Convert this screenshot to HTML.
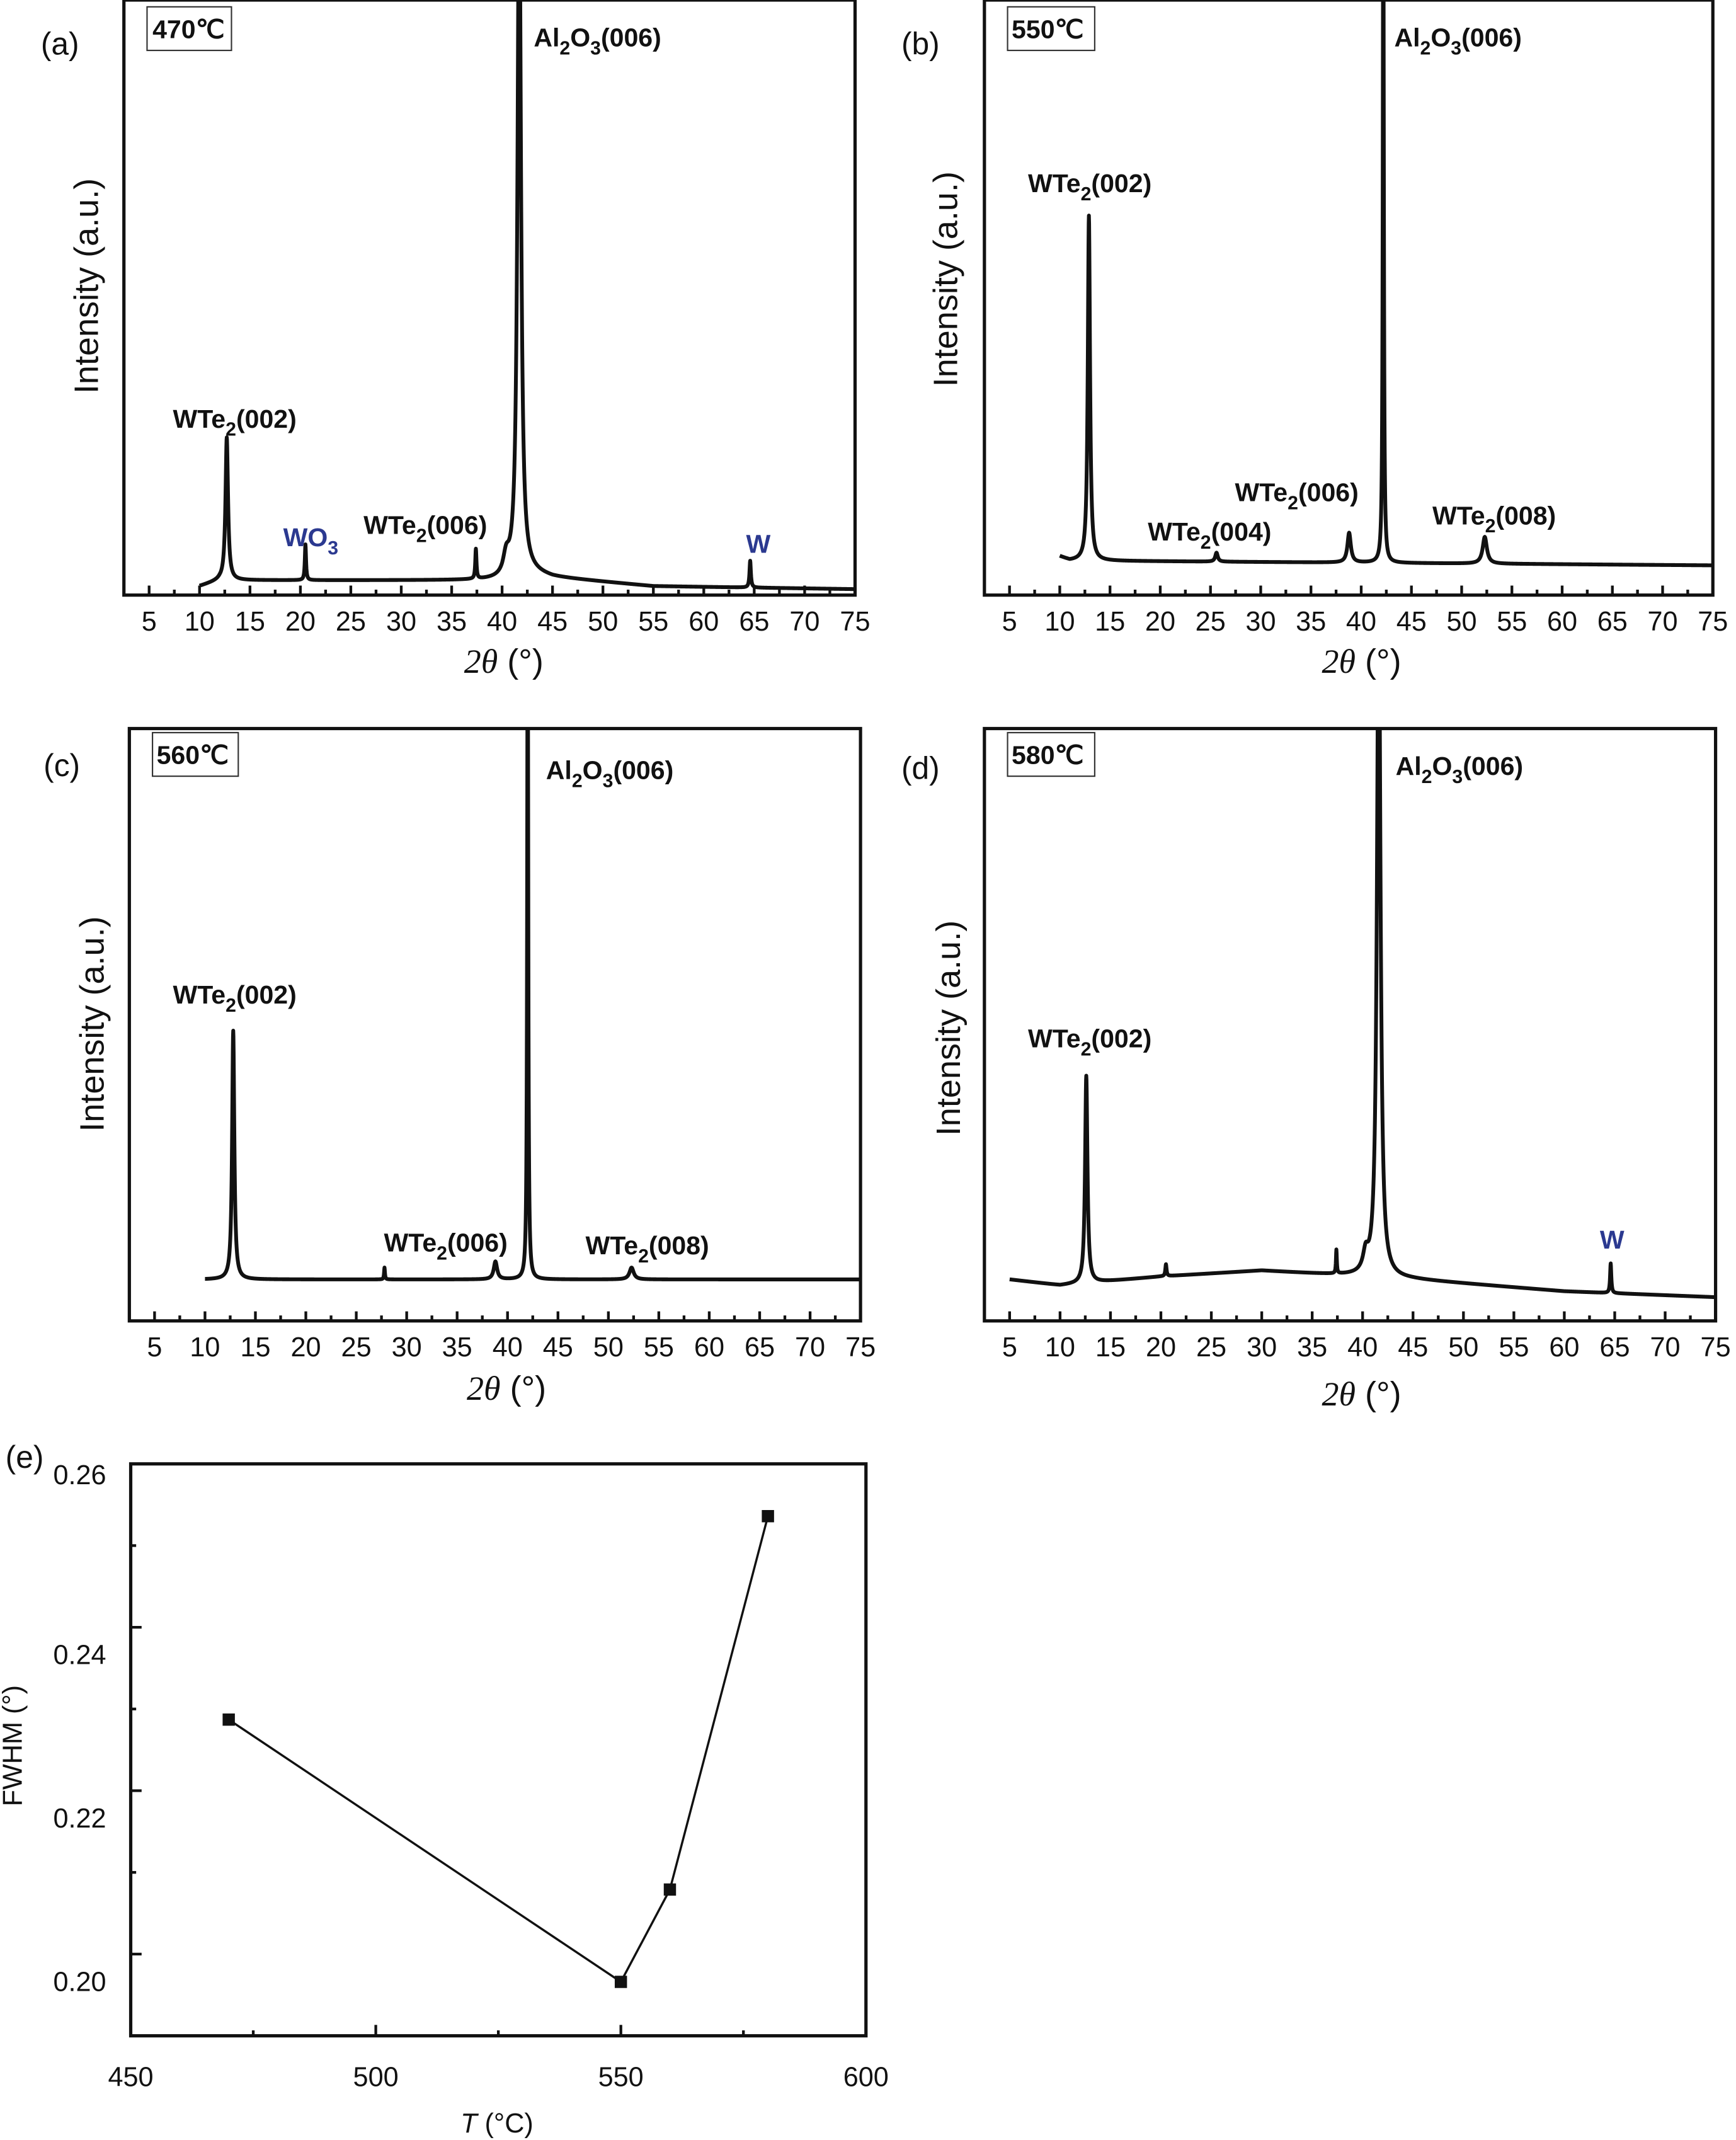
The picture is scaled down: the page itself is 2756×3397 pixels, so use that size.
<!DOCTYPE html>
<html><head><meta charset="utf-8"><title>XRD and FWHM figure</title>
<style>
html,body{margin:0;padding:0;background:#fff;}
svg{display:block;font-family:"Liberation Sans",sans-serif;}
.lbl{font-size:19px;font-weight:bold;fill:#111;}
.blue{fill:#2b3990;}
.tick{font-size:20px;fill:#111;}
.ttl{font-size:25px;fill:#111;}
.pl{font-size:23px;fill:#111;}
</style></head>
<body>
<svg id="fig" width="2756" height="3397" viewBox="0 0 1275 1571.5" xmlns="http://www.w3.org/2000/svg">
<rect x="0" y="0" width="1275" height="1571.5" fill="#fff"/>
<defs>
<clipPath id="clipA"><rect x="91" y="0" width="537" height="437"/></clipPath>
<clipPath id="clipB"><rect x="723" y="0" width="535" height="437"/></clipPath>
<clipPath id="clipC"><rect x="95" y="535" width="537" height="435"/></clipPath>
<clipPath id="clipD"><rect x="723" y="535" width="537" height="435"/></clipPath>
</defs>

<g id="panel-a"></g>
<g id="panel-b"></g>
<g id="panel-c"></g>
<g id="panel-d"></g>
<g id="panel-e"></g>

<text class="pl" x="30" y="40">(a)</text>
<text class="pl" x="662" y="40">(b)</text>
<text class="pl" x="32" y="570">(c)</text>
<text class="pl" x="662" y="572">(d)</text>
<text class="pl" x="4" y="1078">(e)</text>

<g><rect x="108" y="5" width="62" height="32" fill="none" stroke="#333" stroke-width="1"/><text class="lbl" x="112" y="28">470℃</text></g>
<g><rect x="740" y="5" width="64" height="32" fill="none" stroke="#333" stroke-width="1"/><text class="lbl" x="743" y="28">550℃</text></g>
<g><rect x="112" y="538" width="63" height="32" fill="none" stroke="#333" stroke-width="1"/><text class="lbl" x="115" y="561">560℃</text></g>
<g><rect x="740" y="538" width="64" height="32" fill="none" stroke="#333" stroke-width="1"/><text class="lbl" x="743" y="561">580℃</text></g>

<text class="lbl" x="392" y="34">Al<tspan dy="6" font-size="14">2</tspan><tspan dy="-6">O</tspan><tspan dy="6" font-size="14">3</tspan><tspan dy="-6">(006)</tspan></text>
<text class="lbl" x="127" y="314">WTe<tspan dy="6" font-size="14">2</tspan><tspan dy="-6">(002)</tspan></text>
<text class="lbl blue" x="208" y="401">WO<tspan dy="6" font-size="14">3</tspan></text>
<text class="lbl" x="267" y="392">WTe<tspan dy="6" font-size="14">2</tspan><tspan dy="-6">(006)</tspan></text>
<text class="lbl blue" x="548" y="406">W</text>
<text class="lbl" x="1024" y="34">Al<tspan dy="6" font-size="14">2</tspan><tspan dy="-6">O</tspan><tspan dy="6" font-size="14">3</tspan><tspan dy="-6">(006)</tspan></text>
<text class="lbl" x="755" y="141">WTe<tspan dy="6" font-size="14">2</tspan><tspan dy="-6">(002)</tspan></text>
<text class="lbl" x="843" y="397">WTe<tspan dy="6" font-size="14">2</tspan><tspan dy="-6">(004)</tspan></text>
<text class="lbl" x="907" y="368">WTe<tspan dy="6" font-size="14">2</tspan><tspan dy="-6">(006)</tspan></text>
<text class="lbl" x="1052" y="385">WTe<tspan dy="6" font-size="14">2</tspan><tspan dy="-6">(008)</tspan></text>
<text class="lbl" x="401" y="572">Al<tspan dy="6" font-size="14">2</tspan><tspan dy="-6">O</tspan><tspan dy="6" font-size="14">3</tspan><tspan dy="-6">(006)</tspan></text>
<text class="lbl" x="127" y="737">WTe<tspan dy="6" font-size="14">2</tspan><tspan dy="-6">(002)</tspan></text>
<text class="lbl" x="282" y="919">WTe<tspan dy="6" font-size="14">2</tspan><tspan dy="-6">(006)</tspan></text>
<text class="lbl" x="430" y="921">WTe<tspan dy="6" font-size="14">2</tspan><tspan dy="-6">(008)</tspan></text>
<text class="lbl" x="1025" y="569">Al<tspan dy="6" font-size="14">2</tspan><tspan dy="-6">O</tspan><tspan dy="6" font-size="14">3</tspan><tspan dy="-6">(006)</tspan></text>
<text class="lbl" x="755" y="769">WTe<tspan dy="6" font-size="14">2</tspan><tspan dy="-6">(002)</tspan></text>
<text class="lbl blue" x="1175" y="917">W</text>
</svg>
<script>
const peaksA_pos=[12.7,20.5,37.4,40.4,41.7,64.6];
const peaksA_h=[24,6,5,3,120,4.5];
const peaksA_w=[0.15,0.07,0.07,0.35,0.2,0.08];
const baseA_x=[10,12,40,42,45,55,75];
const baseA_y=[1.5,2.5,2.5,4,3,1.5,1];

const peaksB_pos=[12.9,25.6,38.8,42.2,52.3];
const peaksB_h=[58,1.5,5,120,4.5];
const peaksB_w=[0.13,0.15,0.2,0.06,0.25];
const baseB_x=[10,11,75];
const baseB_y=[6.5,5.8,5];

const peaksC_pos=[12.8,27.8,38.8,42.0,52.3];
const peaksC_h=[42,2,3,120,2];
const peaksC_w=[0.13,0.05,0.2,0.06,0.25];
const baseC_x=[10,75];
const baseC_y=[7,7];

const peaksD_pos=[12.6,20.5,37.4,40.3,41.6,64.6];
const peaksD_h=[35,2,4,3,120,5];
const peaksD_w=[0.14,0.07,0.05,0.3,0.2,0.07];
const baseD_x=[5,10,20,30,40,45,60,75];
const baseD_y=[7,6,7.5,8.5,7.5,7,5,4];

const ticksX=[5,10,15,20,25,30,35,40,45,50,55,60,65,70,75];

const tempsE=[470,550,560,580];
const fwhmE=[0.2287,0.1966,0.2079,0.2536];
const ticksEX=[450,500,550,600];
const ticksEY=[0.20,0.22,0.24,0.26];
const tickLabelsEY=["0.20","0.22","0.24","0.26"];

const NS="http://www.w3.org/2000/svg";
function mk(tag,attrs,parent){const e=document.createElementNS(NS,tag);for(const k in attrs)e.setAttribute(k,attrs[k]);parent.appendChild(e);return e;}
function interp(xs,ys,x){if(x<=xs[0])return ys[0];for(let i=1;i<xs.length;i++){if(x<=xs[i]){const t=(x-xs[i-1])/(xs[i]-xs[i-1]);return ys[i-1]+t*(ys[i]-ys[i-1]);}}return ys[ys.length-1];}

function drawXRD(gid,clip,fr,pos,h,w,bx,by,ttlCx,ttlY,yTitle){
  const g=document.getElementById(gid);
  const xmin=2.5,xmax=75;
  const sx=v=>fr.x0+(v-xmin)/(xmax-xmin)*(fr.x1-fr.x0);
  const sy=v=>fr.y1-v/100*(fr.y1-fr.y0);
  let d="";
  for(let x=bx[0];x<=75.0001;x+=0.02){
    let y=interp(bx,by,x);
    for(let i=0;i<pos.length;i++){const dx=x-pos[i];y+=h[i]*w[i]*w[i]/(dx*dx+w[i]*w[i]);}
    d+=(d?"L":"M")+sx(x).toFixed(2)+","+sy(y).toFixed(2);
  }
  const p=mk("path",{d:d,fill:"none",stroke:"#111","stroke-width":"2.8","stroke-linejoin":"round","clip-path":"url(#"+clip+")"},g);
  
  
  const f=mk("rect",{x:fr.x0,y:fr.y0,width:fr.x1-fr.x0,height:fr.y1-fr.y0,fill:"none",stroke:"#111","stroke-width":"2.4"},g);
  
  
  for(let v=5;v<=75;v+=2.5){
    const major=(v%5===0);
    mk("line",{x1:sx(v),x2:sx(v),y1:fr.y1,y2:fr.y1-(major?7:4),stroke:"#111","stroke-width":"2"},g);
  }
  ticksX.forEach(v=>{
    const t=mk("text",{x:sx(v),y:fr.y1+26,"text-anchor":"middle",class:"tick"},g);
    t.textContent=String(v);
    
    
  });
  const tt=mk("text",{x:ttlCx,y:ttlY,"text-anchor":"middle",class:"ttl"},g);
  tt.innerHTML='<tspan font-style="italic" font-family="Liberation Serif, serif">2θ</tspan> (°)';
  
  
  const yt=mk("text",{x:0,y:0,"text-anchor":"middle",class:"ttl",transform:"translate("+yTitle[0]+","+yTitle[1]+") rotate(-90)"},g);
  yt.textContent="Intensity (a.u.)";
  
  
}

drawXRD("panel-a","clipA",{x0:91,x1:628,y0:0,y1:437},peaksA_pos,peaksA_h,peaksA_w,baseA_x,baseA_y,370,494,[72,210]);
drawXRD("panel-b","clipB",{x0:723,x1:1258,y0:0,y1:437},peaksB_pos,peaksB_h,peaksB_w,baseB_x,baseB_y,1000,494,[703,205]);
drawXRD("panel-c","clipC",{x0:95,x1:632,y0:535,y1:970},peaksC_pos,peaksC_h,peaksC_w,baseC_x,baseC_y,372,1028,[76,752]);
drawXRD("panel-d","clipD",{x0:723,x1:1260,y0:535,y1:970},peaksD_pos,peaksD_h,peaksD_w,baseD_x,baseD_y,1000,1032,[705,755]);

(function(){
  const g=document.getElementById("panel-e");
  const fr={x0:96,x1:636,y0:1075,y1:1495};
  const sx=v=>fr.x0+(v-450)/150*(fr.x1-fr.x0);
  const sy=v=>fr.y1-(v-0.19)/0.07*(fr.y1-fr.y0);
  for(let v=475;v<600;v+=25){const major=(v%50===0);mk("line",{x1:sx(v),x2:sx(v),y1:fr.y1,y2:fr.y1-(major?8:4),stroke:"#111","stroke-width":"2"},g);}
  for(let k=0;k<7;k++){const v=0.19+k*0.01;const major=(k%2===1);mk("line",{x1:fr.x0,x2:fr.x0+(major?8:4),y1:sy(v),y2:sy(v),stroke:"#111","stroke-width":"2"},g);}
  const f=mk("rect",{x:fr.x0,y:fr.y0,width:fr.x1-fr.x0,height:fr.y1-fr.y0,fill:"none",stroke:"#111","stroke-width":"2.4"},g);
  
  
  let d="";
  tempsE.forEach((t,i)=>{d+=(i?"L":"M")+sx(t)+","+sy(fwhmE[i]);});
  const ln=mk("path",{d:d,fill:"none",stroke:"#111","stroke-width":"1.6"},g);
  
  
  tempsE.forEach((t,i)=>{
    const r=mk("rect",{x:sx(t)-4.5,y:sy(fwhmE[i])-4.5,width:9,height:9,fill:"#111"},g);
    
    
  });
  ticksEX.forEach(v=>{
    const t=mk("text",{x:sx(v),y:1532,"text-anchor":"middle",class:"tick"},g);
    t.textContent=String(v);
    
    
  });
  ticksEY.forEach((v,i)=>{
    const t=mk("text",{x:78,y:sy(v)+(i===3?15:27),"text-anchor":"end",class:"tick"},g);
    t.textContent=tickLabelsEY[i];
    
    
  });
  const tt=mk("text",{x:365,y:1566,"text-anchor":"middle",class:"tick"},g);
  tt.innerHTML='<tspan font-style="italic">T</tspan> (°C)';
  
  
  const yt=mk("text",{x:0,y:0,"text-anchor":"middle",class:"tick",transform:"translate(16,1282) rotate(-90)"},g);
  yt.textContent="FWHM (°)";
  
  
})();
</script>
</body></html>
